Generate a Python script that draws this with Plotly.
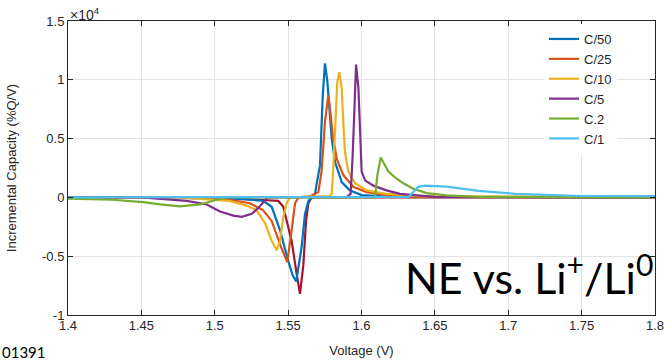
import plotly.graph_objects as go

# values in units of 1e4 (%Q/V)
SCALE = 1e4

v_c50 = [1.40, 1.48, 1.52, 1.533, 1.5388, 1.5445, 1.5494, 1.5530, 1.5555, 1.5592, 1.5615, 1.5638, 1.566, 1.5683, 1.5695, 1.5717, 1.5736, 1.5751, 1.5767, 1.578, 1.5797, 1.582, 1.5865, 1.592, 1.60, 1.62, 1.80]
y_c50 = [0, -0.005, -0.015, -0.03, -0.08, -0.28, -0.51, -0.66, -0.715, -0.42, -0.14, -0.03, 0.0, 0.03, 0.12, 0.27, 0.87, 1.14, 0.99, 0.76, 0.50, 0.30, 0.13, 0.06, 0.02, 0.005, 0]

v_c25 = [1.40, 1.48, 1.51, 1.524, 1.533, 1.5388, 1.5445, 1.5486, 1.5494, 1.5524, 1.5547, 1.557, 1.565, 1.5706, 1.5728, 1.5751, 1.5767, 1.5774, 1.5785, 1.5804, 1.5831, 1.5876, 1.5944, 1.6035, 1.62, 1.64, 1.80]
y_c25 = [0, -0.005, -0.02, -0.05, -0.11, -0.20, -0.40, -0.54, -0.55, -0.28, -0.05, 0.0, 0.01, 0.045, 0.22, 0.64, 0.84, 0.87, 0.76, 0.53, 0.33, 0.19, 0.09, 0.045, 0.015, 0.005, 0]

v_c10 = [1.40, 1.48, 1.51, 1.5218, 1.5286, 1.5343, 1.5388, 1.5422, 1.5445, 1.5467, 1.549, 1.5513, 1.578, 1.5797, 1.5808, 1.5824, 1.5835, 1.5849, 1.5865, 1.5876, 1.5887, 1.591, 1.5956, 1.6035, 1.617, 1.64, 1.80]
y_c10 = [0, -0.005, -0.03, -0.07, -0.11, -0.22, -0.37, -0.45, -0.37, -0.17, -0.05, 0.0, 0.01, 0.03, 0.25, 0.64, 0.98, 1.066, 0.93, 0.64, 0.39, 0.22, 0.12, 0.06, 0.03, 0.01, 0]

v_c5 = [1.40, 1.45, 1.481, 1.4945, 1.5036, 1.5127, 1.5184, 1.5252, 1.5297, 1.533, 1.536, 1.59, 1.5926, 1.594, 1.5951, 1.5963, 1.5979, 1.599, 1.6001, 1.6024, 1.6081, 1.617, 1.6262, 1.65, 1.80]
y_c5 = [0.003, 0.0, -0.03, -0.06, -0.12, -0.155, -0.165, -0.14, -0.09, -0.04, 0.0, 0.005, 0.03, 0.36, 0.79, 1.13, 0.93, 0.50, 0.22, 0.145, 0.10, 0.06, 0.03, 0.005, 0]

v_c02 = [1.40, 1.43, 1.4513, 1.4627, 1.4763, 1.49, 1.5013, 1.508, 1.6092, 1.6108, 1.6131, 1.616, 1.6183, 1.6228, 1.6285, 1.6353, 1.6444, 1.658, 1.68, 1.80]
y_c02 = [-0.01, -0.02, -0.04, -0.06, -0.077, -0.06, -0.02, 0.0, 0.0, 0.19, 0.34, 0.27, 0.22, 0.17, 0.12, 0.074, 0.037, 0.017, 0.005, 0.0]

v_c1 = [1.40, 1.60, 1.632, 1.6353, 1.6387, 1.6433, 1.658, 1.68, 1.705, 1.75, 1.80]
y_c1 = [0, 0, 0.005, 0.045, 0.09, 0.10, 0.092, 0.055, 0.03, 0.012, 0.01]

v_extra = [1.40, 1.50, 1.53, 1.5433, 1.5467, 1.5524, 1.5558, 1.5581, 1.5604, 1.5622, 1.5638, 1.5660, 1.80]
y_extra = [0, -0.005, -0.02, -0.03, -0.08, -0.37, -0.65, -0.82, -0.57, -0.20, -0.05, 0.0, 0]

names = ["C/50", "C/25", "C/10", "C/5", "C.2", "C/1"]
colors = ["#0072BD", "#D95319", "#EDB120", "#7E2F8E", "#77AC30", "#4DBEEE"]
xs = [v_c50, v_c25, v_c10, v_c5, v_c02, v_c1]
ys = [y_c50, y_c25, y_c10, y_c5, y_c02, y_c1]

x_ticks = [1.4, 1.45, 1.5, 1.55, 1.6, 1.65, 1.7, 1.75, 1.8]
x_ticklabels = ["1.4", "1.45", "1.5", "1.55", "1.6", "1.65", "1.7", "1.75", "1.8"]
y_ticks = [-1, -0.5, 0, 0.5, 1, 1.5]
y_ticklabels = ["-1", "-0.5", "0", "0.5", "1", "1.5"]

fig = go.Figure()
fig.add_trace(go.Scatter(x=v_extra, y=[v * SCALE for v in y_extra], mode="lines",
                         line=dict(color="#A2142F", width=2.2), showlegend=False))
for n, c, x, y in zip(names, colors, xs, ys):
    fig.add_trace(go.Scatter(x=x, y=[v * SCALE for v in y], mode="lines", name=n,
                             line=dict(color=c, width=2.2)))

axcol = "#262626"
L, T, R, B = 68, 21, 17, 46
PW, PH = 672 - L - R, 361 - T - B

fig.update_layout(
    width=672, height=361,
    margin=dict(l=L, r=R, t=T, b=B),
    paper_bgcolor="white", plot_bgcolor="white",
    font=dict(family="Liberation Sans, Arial, sans-serif", size=13, color=axcol),
    legend=dict(x=(547 - 3 - L) / PW, y=1 - (24 - T) / PH, xanchor="left", yanchor="top",
                bgcolor="white", borderwidth=0, font=dict(size=13, color=axcol),
                tracegroupgap=0, itemwidth=30),
    xaxis=dict(range=[1.4, 1.8], tickvals=x_ticks, ticktext=x_ticklabels,
               showgrid=True, gridcolor="#E3E3E3", gridwidth=1,
               showline=True, linecolor=axcol, linewidth=1, mirror="allticks",
               ticks="inside", ticklen=5, tickcolor=axcol, zeroline=False,
               ticklabelstandoff=-2, automargin=False,
               title=dict(text="Voltage (V)", standoff=14, font=dict(size=13))),
    yaxis=dict(range=[-1 * SCALE, 1.5 * SCALE], tickvals=[t * SCALE for t in y_ticks],
               ticktext=y_ticklabels, automargin=False,
               showgrid=True, gridcolor="#E3E3E3", gridwidth=1,
               showline=True, linecolor=axcol, linewidth=1, mirror="allticks",
               ticks="inside", ticklen=5, tickcolor=axcol, zeroline=False,
               title=dict(text="Incremental Capacity (%Q/V)", standoff=22, font=dict(size=13))),
)

fig.add_annotation(x=0, y=1, xref="paper", yref="paper", xanchor="left", yanchor="bottom",
                   text="×10<sup>4</sup>", showarrow=False, font=dict(size=14, color=axcol),
                   yshift=-4)
fig.add_annotation(x=(655 - L) / PW, y=(315 - 274) / PH, xref="paper", yref="paper",
                   xanchor="right", yanchor="middle",
                   text="NE vs. Li<sup>+</sup>/Li<sup>0</sup>", showarrow=False,
                   font=dict(family="Lato, sans-serif", size=43, color="black"))
fig.add_annotation(x=(0 - L) / PW, y=(315 - 352) / PH, xref="paper", yref="paper",
                   xanchor="left", yanchor="middle", text="01391", showarrow=False,
                   font=dict(family="Lato, sans-serif", size=15, color="black"))

fig.write_html("out.html", config={"displayModeBar": False},
               post_script="document.body.style.margin='0px';")
